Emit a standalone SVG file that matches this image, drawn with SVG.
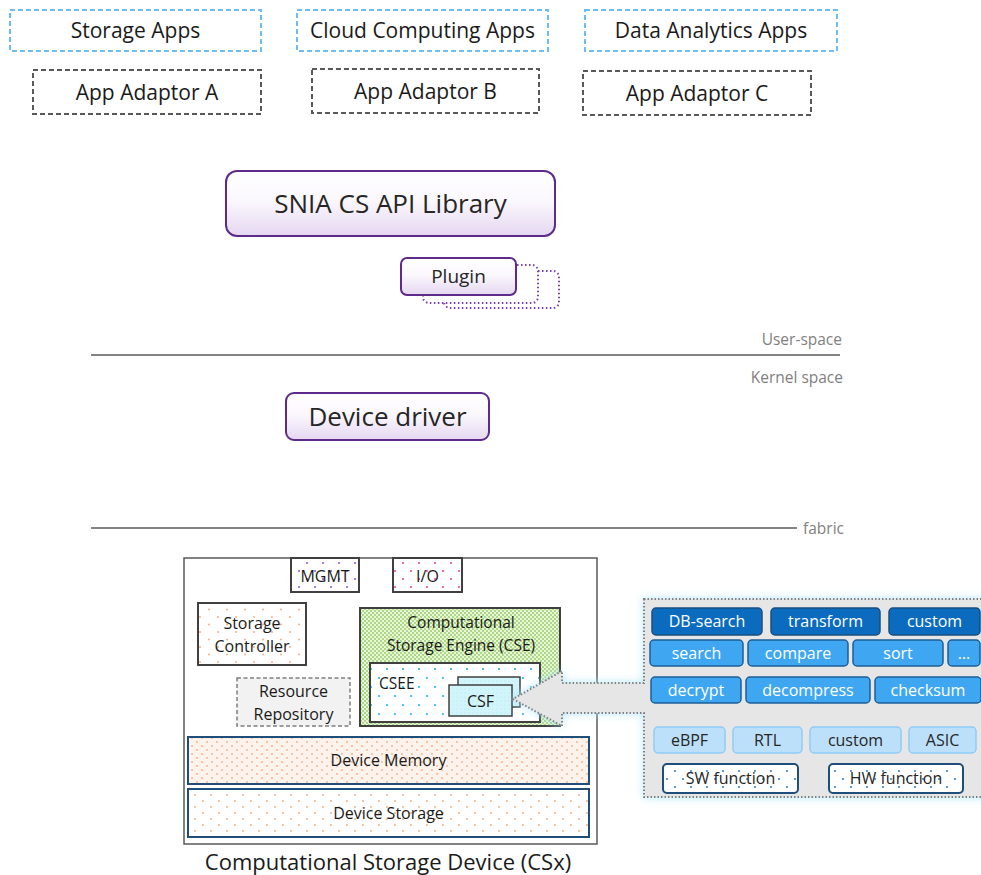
<svg xmlns="http://www.w3.org/2000/svg" width="981" height="875" viewBox="0 0 981 875">
<defs>
<style>
text{font-family:"Open Sans","Noto Sans","Liberation Sans",sans-serif;fill:#1a1a1a}
.app{fill:#fff;stroke:#6cbdf2;stroke-width:2;stroke-dasharray:5 3}
.adp{fill:#fff;stroke:#595959;stroke-width:2;stroke-dasharray:5 3}
.t21{font-size:21px;text-anchor:middle}
.lib{fill:url(#pg);stroke:#5e2a8c;stroke-width:2}
.ghost{fill:#fff;stroke:#7a3fb0;stroke-width:2;stroke-dasharray:1.5 2.5}
.sep{stroke:#595959;stroke-width:1.5;fill:none}
.lbl{font-size:15.5px;fill:#7f7f7f}
.c16{font-size:16px;text-anchor:middle}
.c15{font-size:15.5px;text-anchor:middle}
.blk{stroke:#404040;stroke-width:2}
.mem{stroke:#1f4e79;stroke-width:2}
.b1{fill:#0b6cbf;stroke:#1a4f80;stroke-width:1.5}
.b2{fill:#3fa7f2;stroke:#1d5f99;stroke-width:1.5}
.b4{fill:#bde0fa;stroke:#8ecbf6;stroke-width:1.5}
.b5{fill:url(#dotB);stroke:#1f4e79;stroke-width:2}
.wt{font-size:16px;text-anchor:middle;fill:#fff}
.dk{font-size:16px;text-anchor:middle;fill:#262626}
</style>
<linearGradient id="pg" x1="0" y1="0" x2="0" y2="1">
<stop offset="0" stop-color="#ffffff"/>
<stop offset="0.45" stop-color="#fbf8fd"/>
<stop offset="1" stop-color="#e5d7f1"/>
</linearGradient>
<pattern id="dotO" width="18" height="15" patternUnits="userSpaceOnUse">
<rect width="18" height="15" fill="#fff"/>
<circle cx="2" cy="2" r="1" fill="#f4b183"/>
<circle cx="11" cy="9.5" r="1" fill="#f4b183"/>
</pattern>
<pattern id="dotM" width="10" height="8" patternUnits="userSpaceOnUse">
<rect width="10" height="8" fill="#fdf3ec"/>
<circle cx="2" cy="2" r="0.9" fill="#f4b183"/>
<circle cx="7" cy="6" r="0.9" fill="#f4b183"/>
</pattern>
<pattern id="dotS" width="16" height="12" patternUnits="userSpaceOnUse">
<rect width="16" height="12" fill="#fff"/>
<circle cx="3" cy="3" r="1" fill="#f4b183"/>
<circle cx="11" cy="9" r="1" fill="#f4b183"/>
</pattern>
<pattern id="dotP" width="16" height="16" patternUnits="userSpaceOnUse">
<rect width="16" height="16" fill="#fff"/>
<circle cx="3" cy="3" r="1.1" fill="#9b5fd3"/>
<circle cx="11" cy="11" r="1.1" fill="#9b5fd3"/>
</pattern>
<pattern id="dotK" width="16" height="16" patternUnits="userSpaceOnUse">
<rect width="16" height="16" fill="#fff"/>
<circle cx="3" cy="3" r="1.1" fill="#ea4c9c"/>
<circle cx="11" cy="11" r="1.1" fill="#ea4c9c"/>
</pattern>
<pattern id="dotG" width="4" height="4" patternUnits="userSpaceOnUse">
<rect width="4" height="4" fill="#e9f5dc"/>
<circle cx="1" cy="1" r="0.9" fill="#8fcc55"/>
<circle cx="3" cy="3" r="0.9" fill="#8fcc55"/>
</pattern>
<pattern id="dotC" width="16" height="18" patternUnits="userSpaceOnUse">
<rect width="16" height="18" fill="#fff"/>
<circle cx="3" cy="3" r="1.1" fill="#1fb4ef"/>
<circle cx="11" cy="12" r="1.1" fill="#1fb4ef"/>
</pattern>
<pattern id="dotF" width="4" height="4" patternUnits="userSpaceOnUse">
<rect width="4" height="4" fill="#d2f5fb"/>
<circle cx="1" cy="1" r="0.6" fill="#a8e6f2"/>
</pattern>
<pattern id="dotB" width="16" height="16" patternUnits="userSpaceOnUse">
<rect width="16" height="16" fill="#fff"/>
<circle cx="3" cy="3" r="1.1" fill="#3d85c6"/>
<circle cx="11" cy="11" r="1.1" fill="#3d85c6"/>
</pattern>
<filter id="glow" x="-10%" y="-10%" width="120%" height="120%">
<feGaussianBlur in="SourceAlpha" stdDeviation="4" result="b"/>
<feFlood flood-color="#a9e4fb" flood-opacity="0.9"/>
<feComposite in2="b" operator="in" result="g"/>
<feMerge><feMergeNode in="g"/><feMergeNode in="SourceGraphic"/></feMerge>
</filter>
</defs>
<rect width="981" height="875" fill="#fff"/>

<g id="storage-apps"><rect class="app" x="10" y="10" width="251" height="41"/><text class="t21" x="135.5" y="38">Storage Apps</text></g>
<g id="cloud-apps"><rect class="app" x="297" y="10" width="251" height="41"/><text class="t21" x="422.5" y="38">Cloud Computing Apps</text></g>
<g id="analytics-apps"><rect class="app" x="585" y="10" width="252" height="41"/><text class="t21" x="711" y="38">Data Analytics Apps</text></g>
<g id="adaptor-a"><rect class="adp" x="33" y="70" width="228" height="44"/><text class="t21" x="147" y="99.5">App Adaptor A</text></g>
<g id="adaptor-b"><rect class="adp" x="312" y="69" width="227" height="44"/><text class="t21" x="425.5" y="98.5">App Adaptor B</text></g>
<g id="adaptor-c"><rect class="adp" x="583" y="71" width="228" height="44"/><text class="t21" x="697" y="100.5">App Adaptor C</text></g>

<g id="api-library"><rect class="lib" x="226" y="171" width="329" height="65" rx="11"/><text x="390.5" y="213" style="font-size:26px;text-anchor:middle;fill:#262626">SNIA CS API Library</text></g>

<g id="plugin">
<rect class="ghost" x="444" y="271" width="115" height="37" rx="6"/>
<rect class="ghost" x="423" y="265" width="115" height="38" rx="6"/>
<rect class="lib" x="401" y="258" width="115" height="37" rx="6"/>
<text x="458.5" y="283" style="font-size:19px;text-anchor:middle;fill:#262626">Plugin</text>
</g>

<g id="layers">
<line class="sep" x1="91" y1="355" x2="840" y2="355"/>
<text class="lbl" x="842" y="345" text-anchor="end">User-space</text>
<text class="lbl" x="843" y="383" text-anchor="end">Kernel space</text>
<line class="sep" x1="91" y1="528" x2="797" y2="528"/>
<text class="lbl" x="803" y="534">fabric</text>
</g>

<g id="device-driver"><rect class="lib" x="286" y="393" width="203" height="47" rx="8"/><text x="387.5" y="426" style="font-size:26px;text-anchor:middle;fill:#262626">Device driver</text></g>

<g id="csx">
<rect x="184" y="558" width="413" height="286" fill="#fff" stroke="#595959" stroke-width="1.5"/>
<text x="388" y="870" style="font-size:22px;text-anchor:middle">Computational Storage Device (CSx)</text>
</g>
<g id="mgmt"><rect class="blk" x="291" y="558" width="68" height="34" fill="url(#dotP)"/><text class="c16" x="325" y="582">MGMT</text></g>
<g id="io"><rect class="blk" x="393" y="558" width="69" height="34" fill="url(#dotK)"/><text class="c16" x="427.5" y="582">I/O</text></g>
<g id="storage-controller"><rect class="blk" x="198" y="603" width="108" height="62" fill="url(#dotO)"/><text class="c16" x="252" y="629">Storage</text><text class="c16" x="252" y="652">Controller</text></g>
<g id="resource-repository"><rect x="237" y="678" width="113" height="48" fill="#f2f2f2" stroke="#7f7f7f" stroke-width="1.5" stroke-dasharray="4 2.5"/><text class="c16" x="293.5" y="697">Resource</text><text class="c16" x="293.5" y="720">Repository</text></g>
<g id="cse"><rect class="blk" x="360" y="608" width="200" height="118" fill="url(#dotG)"/><text class="c15" x="461" y="627.5">Computational</text><text class="c15" x="461" y="650.5">Storage Engine (CSE)</text></g>
<g id="csee"><rect class="blk" x="370" y="663" width="170" height="59" fill="url(#dotC)"/><text x="379" y="689" style="font-size:15.5px">CSEE</text></g>
<g id="csf"><rect x="458" y="677" width="62" height="30" fill="url(#dotF)" stroke="#404040" stroke-width="1.5"/><rect x="449" y="685" width="63" height="31" fill="url(#dotF)" stroke="#404040" stroke-width="1.5"/><text class="c16" x="480.5" y="706.5">CSF</text></g>
<g id="device-memory"><rect class="mem" x="188" y="737" width="401" height="47" fill="url(#dotM)"/><text class="c16" x="388.5" y="766">Device Memory</text></g>
<g id="device-storage"><rect class="mem" x="188" y="789" width="401" height="48" fill="url(#dotS)"/><text class="c16" x="388.5" y="819">Device Storage</text></g>

<g id="connectors">
<path d="M644 599 H990 V797 H644 V713 H562 V726 L513 699 L562 671 V683 H644 Z" fill="#e6e6e6" stroke="#808080" stroke-width="2" stroke-dasharray="1.5 2" filter="url(#glow)"/>
</g>

<g id="function-panel">
<g id="db-search"><rect class="b1" x="652" y="608" width="110" height="27" rx="4"/><text class="wt" x="707" y="627">DB-search</text></g>
<g id="transform"><rect class="b1" x="771" y="608" width="109" height="27" rx="4"/><text class="wt" x="825.5" y="627">transform</text></g>
<g id="custom1"><rect class="b1" x="889" y="608" width="91" height="27" rx="4"/><text class="wt" x="934.5" y="627">custom</text></g>
<g id="search"><rect class="b2" x="650" y="640" width="93" height="26" rx="4"/><text class="wt" x="696.5" y="658.5">search</text></g>
<g id="compare"><rect class="b2" x="748" y="640" width="100" height="26" rx="4"/><text class="wt" x="798" y="658.5">compare</text></g>
<g id="sort"><rect class="b2" x="853" y="640" width="90" height="26" rx="4"/><text class="wt" x="898" y="658.5">sort</text></g>
<g id="more"><rect class="b2" x="948" y="640" width="32" height="26" rx="4"/><text class="wt" x="964" y="658.5">…</text></g>
<g id="decrypt"><rect class="b2" x="651" y="677" width="90" height="26" rx="4"/><text class="wt" x="696" y="695.5">decrypt</text></g>
<g id="decompress"><rect class="b2" x="746" y="677" width="124" height="26" rx="4"/><text class="wt" x="808" y="695.5">decompress</text></g>
<g id="checksum"><rect class="b2" x="875" y="677" width="106" height="26" rx="4"/><text class="wt" x="928" y="695.5">checksum</text></g>
<g id="ebpf"><rect class="b4" x="654" y="727" width="71" height="26" rx="4"/><text class="dk" x="689.5" y="745.5">eBPF</text></g>
<g id="rtl"><rect class="b4" x="733" y="727" width="69" height="26" rx="4"/><text class="dk" x="767.5" y="745.5">RTL</text></g>
<g id="custom2"><rect class="b4" x="810" y="727" width="91" height="26" rx="4"/><text class="dk" x="855.5" y="745.5">custom</text></g>
<g id="asic"><rect class="b4" x="909" y="727" width="67" height="26" rx="4"/><text class="dk" x="942.5" y="745.5">ASIC</text></g>
<g id="sw-function"><rect class="b5" x="663" y="764" width="135" height="29" rx="4"/><text class="dk" x="730.5" y="784">SW function</text></g>
<g id="hw-function"><rect class="b5" x="829" y="764" width="134" height="29" rx="4"/><text class="dk" x="896" y="784">HW function</text></g>
</g>
</svg>
